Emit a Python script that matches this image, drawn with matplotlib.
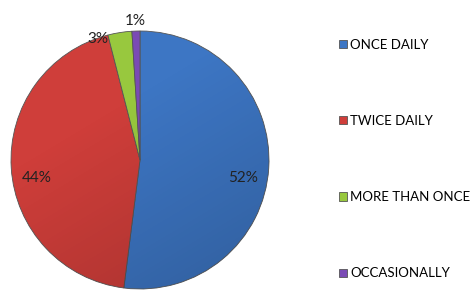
import numpy as np
import matplotlib
matplotlib.use("Agg")
import matplotlib.pyplot as plt

plt.rcParams['font.family'] = ['Lato', 'DejaVu Sans']

# データ
labels = ["ONCE DAILY", "TWICE DAILY", "MORE THAN ONCE", "OCCASIONALLY"]
values = [52, 44, 3, 1]
colors = ["#3d76c4", "#cf3e3a", "#98c83e", "#7a4bb5"]

W, H = 473, 290
fig = plt.figure(figsize=(W / 100, H / 100), dpi=100)

# 円の中心と半径 (ピクセル)
cx, cy, r = 140, 160, 129
ax = fig.add_axes([(cx - r) / W, (H - cy - r) / H, 2 * r / W, 2 * r / H])

wedges, texts, autotexts = ax.pie(
    values, colors=colors, startangle=90, counterclock=False,
    autopct="%1.0f%%", pctdistance=0.8,
    wedgeprops=dict(edgecolor="#555555", linewidth=0.6),
    textprops=dict(fontsize=11, color="#222222"))
ax.set_xlim(-1, 1)
ax.set_ylim(-1, 1)
ax.set_aspect("equal")

# 大きい扇形のラベルは少し下へ
for t in autotexts[:2]:
    x, y = t.get_position()
    t.set_position((x, y - 0.09))

# 小さい扇形のラベルは外側へ
w = wedges[2]
a = np.deg2rad(w.theta2)
autotexts[2].set_position((np.cos(a) * 0.99, np.sin(a) * 0.97))
autotexts[2].set_ha("right")
w = wedges[3]
a = np.deg2rad((w.theta1 + w.theta2) / 2)
autotexts[3].set_position((np.cos(a) * 1.08, np.sin(a) * 1.08))

# 立体感のためのグラデーション
yy, xx = np.mgrid[-1:1:300j, -1:1:300j]
shade = np.zeros((300, 300, 4))
shade[..., 3] = np.clip(0.18 * (-yy[::-1] * 0.5 + 0.3 * xx) + 0.05, 0, 0.3)
im = ax.imshow(shade, extent=(-1, 1, -1, 1), zorder=3)
circ = plt.Circle((0, 0), 1, transform=ax.transData)
im.set_clip_path(circ)
for t in autotexts:
    t.set_zorder(5)

fig.legend(wedges, labels, loc="upper left", bbox_to_anchor=(332 / W, 1 - 32 / H),
           frameon=False, fontsize=9.5, labelspacing=4.87,
           handlelength=0.6, handleheight=0.6, handletextpad=0.3, borderpad=0)

fig.savefig("out.png", dpi=100)
